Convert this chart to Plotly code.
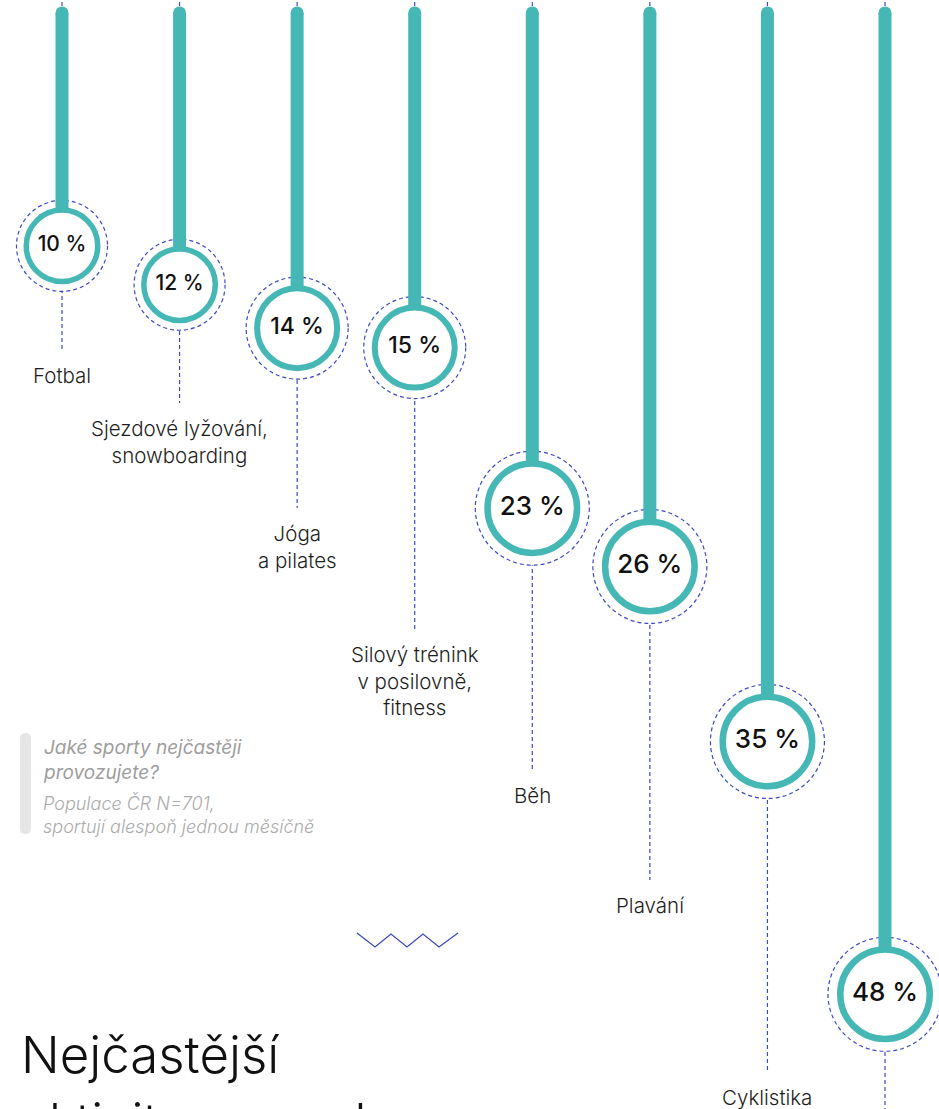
import plotly.graph_objects as go

# ---------------- data ----------------
categories = ["Fotbal", "Sjezdové lyžování,<br>snowboarding", "Jóga<br>a pilates",
              "Silový trénink<br>v posilovně,<br>fitness", "Běh", "Plavání", "Cyklistika", ""]
values = [10, 12, 14, 15, 23, 26, 35, 48]
question = "Jaké sporty nejčastěji<br>provozujete?"
note = "Populace ČR N=701,<br>sportují alespoň jednou měsíčně"
title_lines = ["Nejčastější", "aktivitou populace"]

# ---------------- layout / style ----------------
W, H = 939, 1109
TEAL = "#45b8b5"
BLUE = "#3f49c3"
FONT = "Inter"
X_FIRST, X_LAST = 62, 885          # pixel centre of first / last column
PX0, K = 12.9, 19.445              # pixel of value 0, pixels per percent
label_center_px = [375, 428, 533, 654, 795, 905, 1097, 1180]

n = len(values)
sx = (X_LAST - X_FIRST) / (n - 1)
x_range = [-X_FIRST / sx, -X_FIRST / sx + W / sx]
y_range = [(H - PX0) / K, (0 - PX0) / K]   # reversed


def px_to_val(py):
    return (py - PX0) / K


def fx(px):
    return px / W


def fy(py):
    return 1 - py / H


def geom(v):
    # outer ring radius, ring thickness, dashed radius, font size
    if v < 13:
        return 38.5, 5.5, 45.5, 21
    if v < 20:
        return 43, 6, 51, 23
    return 48, 6.5, 57, 26


shapes = []
# leader dashed lines
for i, v in enumerate(values):
    shapes.append(dict(type="line", xref="x", yref="y", x0=i, x1=i,
                       y0=px_to_val(-5), y1=px_to_val(label_center_px[i] - 25),
                       line=dict(color=BLUE, width=1.2, dash="4px,3px"), layer="below"))
# dashed circles (white fill)
for i, v in enumerate(values):
    R, t, rd, fs = geom(v)
    shapes.append(dict(type="circle", xref="x", yref="y", xsizemode="pixel", ysizemode="pixel",
                       xanchor=i, yanchor=v, x0=-rd, x1=rd, y0=-R - rd, y1=-R + rd,
                       fillcolor="white", line=dict(color=BLUE, width=1.2, dash="4px,3px"),
                       layer="below"))
# sticks with rounded caps
for i, v in enumerate(values):
    R, t, rd, fs = geom(v)
    shapes.append(dict(type="rect", xref="x", yref="y", xsizemode="pixel", xanchor=i,
                       x0=-6.5, x1=6.5, y0=0, y1=v + R / K,
                       fillcolor=TEAL, line=dict(width=0), layer="below"))
    shapes.append(dict(type="circle", xref="x", yref="y", xsizemode="pixel", ysizemode="pixel",
                       xanchor=i, yanchor=0, x0=-6.5, x1=6.5, y0=-6.5, y1=6.5,
                       fillcolor=TEAL, line=dict(width=0), layer="below"))

# grey bar next to the question
bx0, bx1, by0, by1, r = 20, 31, 733, 834, 5.5
path = (f"M{fx(bx0)},{fy(by0 + r)} Q{fx(bx0)},{fy(by0)} {fx(bx0 + r)},{fy(by0)} "
        f"Q{fx(bx1)},{fy(by0)} {fx(bx1)},{fy(by0 + r)} L{fx(bx1)},{fy(by1 - r)} "
        f"Q{fx(bx1)},{fy(by1)} {fx(bx1 - r)},{fy(by1)} Q{fx(bx0)},{fy(by1)} {fx(bx0)},{fy(by1 - r)} Z")
shapes.append(dict(type="path", xref="paper", yref="paper", path=path,
                   fillcolor="#e6e6e6", line=dict(width=0)))

# zigzag
zz = [(357, 933), (375, 947), (391, 934), (407, 947), (423, 934), (439, 947), (458, 933)]
zpath = "M" + " L".join(f"{fx(a)},{fy(b)}" for a, b in zz)
shapes.append(dict(type="path", xref="paper", yref="paper", path=zpath,
                   line=dict(color=BLUE, width=1.3)))

fig = go.Figure()

ring_y = [v + geom(v)[0] / K for v in values]
fig.add_trace(go.Scatter(
    x=list(range(n)), y=ring_y, mode="markers+text",
    text=[f"{v} %" for v in values], textposition="middle center",
    textfont=dict(family=FONT, size=[geom(v)[3] for v in values], color="#111111", weight=500),
    marker=dict(symbol="circle", color="white", opacity=1,
                size=[2 * (geom(v)[0] - geom(v)[1] / 2) for v in values],
                line=dict(color=TEAL, width=[geom(v)[1] for v in values])),
    hoverinfo="skip", showlegend=False, cliponaxis=False))

annotations = []
for i, name in enumerate(categories):
    if not name:
        continue
    annotations.append(dict(x=i, xref="x", y=px_to_val(label_center_px[i] - 13), yref="y",
                            text=name, showarrow=False, xanchor="center", yanchor="top",
                            align="center", borderpad=0,
                            font=dict(family=FONT, size=20.5, color="#1e1e1e", weight=300)))

annotations.append(dict(x=fx(42), xref="paper", y=fy(735), yref="paper", text=f"<i>{question}</i>",
                        showarrow=False, xanchor="left", yanchor="top", align="left", borderpad=0,
                        font=dict(family=FONT, size=19, color="#9d9d9d", weight=400)))
annotations.append(dict(x=fx(42), xref="paper", y=fy(791), yref="paper", text=f"<i>{note}</i>",
                        showarrow=False, xanchor="left", yanchor="top", align="left", borderpad=0,
                        font=dict(family=FONT, size=18, color="#ababab", weight=300)))
for j, line in enumerate(title_lines):
    annotations.append(dict(x=fx(20), xref="paper", y=fy(1054 + 67 * j), yref="paper", text=line,
                            showarrow=False, xanchor="left", yanchor="middle", borderpad=0,
                            font=dict(family=FONT, size=51, color="#111111", weight=300)))

fig.update_layout(
    width=W, height=H, margin=dict(l=0, r=0, t=0, b=0),
    paper_bgcolor="white", plot_bgcolor="white",
    xaxis=dict(range=x_range, visible=False, fixedrange=True),
    yaxis=dict(range=y_range, visible=False, fixedrange=True),
    shapes=shapes, annotations=annotations, showlegend=False,
)

fig.write_html("out.html", config={"displayModeBar": False},
               post_script="document.body.style.margin='0';document.body.style.overflow='hidden';")
